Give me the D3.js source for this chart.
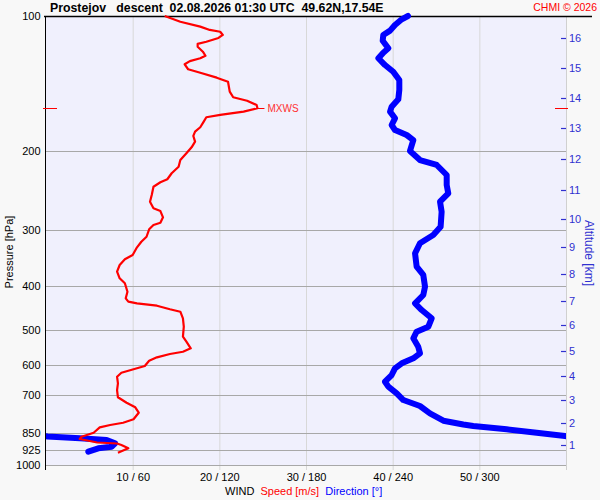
<!DOCTYPE html>
<html><head><meta charset="utf-8">
<script src="https://cdn.jsdelivr.net/npm/d3@7"></script>
<style>
html,body{margin:0;padding:0;background:#f8f8f8;}
svg{display:block;font-family:"Liberation Sans",Arial,sans-serif;}
</style></head><body>
<svg id="c" width="600" height="500"></svg>
<script>
// ---- data ----
const pressureTicks = [100,200,300,400,500,600,700,850,925,1000];
const speedTicks = [10,20,30,40,50];
const dirTicks = [60,120,180,240,300];
const altKm = [1,2,3,4,5,6,7,8,9,10,11,12,13,14,15,16];
const altPressure = [902.7,807.5,716.6,633.7,556.6,487.8,430.6,376.1,326.5,283.7,244.1,208.5,177.9,152.5,130.3,112.1];
const maxWind = {p:160.5, s:24.4};

// wind speed [m/s] profile: pressure [hPa]
const speedP = [100,103.0,105.6,107.4,108.4,110.2,111.9,114.1,115.4,117.1,120.1,122.6,124.2,126.0,128.1,131.4,133.8,137.2,140.1,147.4,151.7,154.4,157.8,160.5,163.3,166.1,168.1,171.9,176.9,181.0,185.0,190.5,196.1,202.2,209.3,216.6,224.0,231.0,234.6,240.0,250.4,259.2,268.1,271.9,280.8,288.7,292.1,298.6,310.2,318.2,327.5,340.6,348.2,358.6,371.1,383.9,393.8,411.2,425.4,432.8,436.4,441.8,450.0,455.6,471.3,492.0,517.9,531.4,549.7,559.4,566.0,575.7,585.8,601.9,612.2,623.0,635.9,657.8,680.8,706.7,726.6,743.9,764.8,791.1,805.1,814.6,824.3,847.4,865.0,875.3,891.1,895.7,902.6,918.0,938.9];
const speedV = [13.7,15.5,17.8,18.9,20.1,20.4,19.9,18.5,17.5,17.5,18.1,18.4,17.8,16.6,16.0,16.4,17.8,19.7,21.0,21.2,21.6,23.2,24.3,24.4,22.8,20.1,18.5,18.2,17.8,17.2,17.0,17.2,16.8,16.2,15.5,15.3,14.5,14.0,13.2,12.4,12.2,12.0,12.4,13.2,13.5,13.2,12.4,11.9,11.6,11.0,10.5,10.0,9.1,8.5,8.2,8.5,9.1,9.4,9.2,9.5,10.5,12.8,14.3,15.5,15.8,15.9,15.8,16.2,16.7,15.8,14.3,12.8,11.9,11.4,10.1,8.7,8.2,8.3,8.2,8.3,9.3,10.3,10.7,10.1,8.9,7.4,6.2,5.5,4.1,3.9,5.9,8.2,8.7,9.5,8.3];

// wind direction [deg] profile: pressure [hPa]
const dirP = [100,101.7,104.7,107.8,110.2,113.5,118.0,120.7,124.2,128.6,133.1,138.8,146.1,153.3,159.2,163.3,169.0,174.9,179.4,184.1,188.9,199.8,209.3,214.7,226.0,237.9,248.3,259.2,272.8,294.7,307.5,320.8,337.7,361.7,377.4,400.8,418.2,436.4,451.7,471.3,492.0,504.8,522.2,545.2,564.0,578.6,593.7,609.1,630.4,652.4,669.3,692.3,716.6,739.0,767.2,796.9,812.5,818.8,832.8,847.4,861.9,864.0,872.1,879.8,894.8,910.5,918.0,934.1];
const dirV = [250.6,246.3,241.6,238.2,233.5,233.1,237.0,233.5,230.1,234.7,240.4,244.6,244.6,243.9,239.3,238.2,241.6,239.3,241.6,249.7,254.3,252.0,258.9,270.5,277.4,277.4,278.5,272.8,273.9,273.2,268.1,258.9,255.5,256.6,261.2,262.4,261.2,255.5,260.1,267.0,264.7,256.6,254.3,257.7,258.9,254.3,246.3,241.6,239.3,234.7,237.0,242.8,247.4,258.9,265.8,275.1,288.9,295.8,318.9,339.7,359.3,1.0,23.5,42.0,47.8,45.5,36.2,29.3];

// ---- chart ----
const svg = d3.select("#c");
const L = 46, R = 566, T = 16, B = 465;
const y = d3.scaleLog().domain([100,1000]).range([T,B]);
const xs = d3.scaleLinear().domain([0,60]).range([L,R]);
const xd = d3.scaleLinear().domain([0,360]).range([L,R]);

svg.append("rect").attr("x",L).attr("y",T).attr("width",R-L).attr("height",B-T).attr("fill","#f0f0fd");

// vertical grid
svg.append("g").selectAll("line").data(speedTicks).join("line")
  .attr("x1",d=>xs(d)+0.5).attr("x2",d=>xs(d)+0.5).attr("y1",T).attr("y2",B+5)
  .attr("stroke","#d8d8d8").attr("stroke-width",1);
svg.append("line").attr("x1",R+0.5).attr("x2",R+0.5).attr("y1",T).attr("y2",B+5).attr("stroke","#d0d0d0");

// horizontal grid
svg.append("g").selectAll("line").data(pressureTicks.slice(1)).join("line")
  .attr("x1",L).attr("x2",R).attr("y1",d=>Math.round(y(d))+0.5).attr("y2",d=>Math.round(y(d))+0.5)
  .attr("stroke","#a8a8a8").attr("stroke-width",1);

// left axis
const ax = svg.append("g").attr("transform",`translate(${L-0.5},0)`)
  .call(d3.axisLeft(y).tickValues(pressureTicks).tickFormat(d3.format("d")).tickSize(0).tickPadding(5));
ax.select(".domain").remove();
ax.selectAll("text").attr("font-size",11).attr("fill","#000").attr("font-family","Liberation Sans, Arial, sans-serif");
svg.append("line").attr("x1",L-0.5).attr("x2",L-0.5).attr("y1",T).attr("y2",B+5).attr("stroke","#000");
svg.append("line").attr("x1",L-2).attr("x2",592).attr("y1",T+0.5).attr("y2",T+0.5).attr("stroke","#000").attr("stroke-width",1.5);

// bottom axis labels
const bx = svg.append("g").attr("transform",`translate(0,${B})`)
  .call(d3.axisBottom(xs).tickValues(speedTicks).tickSize(0).tickPadding(8)
    .tickFormat((d,i)=>`${d} / ${dirTicks[i]}`));
bx.select(".domain").remove();
bx.selectAll("text").attr("font-size",11).attr("fill","#000").attr("font-family","Liberation Sans, Arial, sans-serif");

// right altitude axis
const ra = svg.append("g").attr("transform",`translate(${R},0)`)
  .call(d3.axisRight(y).tickValues(altPressure).tickSize(0).tickPadding(3)
    .tickFormat((d,i)=>altKm[i]));
ra.select(".domain").remove();
ra.selectAll("text").attr("font-size",11).attr("fill","#3030d0").attr("font-family","Liberation Sans, Arial, sans-serif");
svg.append("g").selectAll("line").data(altPressure).join("line")
  .attr("x1",R-5).attr("x2",R).attr("y1",d=>Math.round(y(d))+0.5).attr("y2",d=>Math.round(y(d))+0.5)
  .attr("stroke","#3030d0").attr("stroke-width",1.2);

// clip
svg.append("clipPath").attr("id","pc").append("rect").attr("x",L).attr("y",0).attr("width",R-L).attr("height",B);

// direction line (unwrapped across 360)
let off = 0;
const dirU = dirV.map((v,i)=>{ if(i>0 && v - dirV[i-1] < -180) off += 360; return v+off; });
const dline = d3.line().x(d=>d[0]).y(d=>y(d[1]));
const gd = svg.append("g").attr("clip-path","url(#pc)");
[0,360].forEach(sh=>{
  gd.append("path").attr("d", dline(dirU.map((v,i)=>[xd(v-sh), dirP[i]])))
    .attr("fill","none").attr("stroke","#0000ff").attr("stroke-width",6)
    .attr("stroke-linejoin","round").attr("stroke-linecap","round");
});

// speed line
svg.append("path").attr("d", d3.line().x((d,i)=>xs(d)).y((d,i)=>y(speedP[i]))(speedV))
  .attr("fill","none").attr("stroke","#ff0000").attr("stroke-width",2.2).attr("stroke-linejoin","round");

// max wind marker
const my = Math.round(y(maxWind.p))+0.5;
svg.append("line").attr("x1",L-3).attr("x2",L+11).attr("y1",my).attr("y2",my).attr("stroke","#ff0000");
svg.append("line").attr("x1",R-11).attr("x2",R+2).attr("y1",my).attr("y2",my).attr("stroke","#ff0000");
svg.append("line").attr("x1",xs(maxWind.s)).attr("x2",xs(maxWind.s)+7).attr("y1",my).attr("y2",my).attr("stroke","#ff0000");
svg.append("text").attr("x",xs(maxWind.s)+10).attr("y",my+3.5).attr("font-size",10).attr("fill","#ff3030").text("MXWS");

// titles
svg.append("text").attr("x",50).attr("y",12).attr("font-size",12.3).attr("font-weight","bold").attr("fill","#000")
  .attr("xml:space","preserve").style("white-space","pre")
  .text("Prostejov   descent  02.08.2026 01:30 UTC  49.62N,17.54E");
svg.append("text").attr("x",597).attr("y",11).attr("text-anchor","end").attr("font-size",10.5).attr("fill","#ff0000").text("CHMI © 2026");

svg.append("text").attr("transform","translate(13,252) rotate(-90)").attr("text-anchor","middle").attr("font-size",11).attr("fill","#000").text("Pressure [hPa]");
svg.append("text").attr("transform","translate(585,253) rotate(90)").attr("text-anchor","middle").attr("font-size",12).attr("fill","#3030d0").text("Altitude [km]");

const leg = svg.append("text").attr("x",225).attr("y",495).attr("font-size",11).style("white-space","pre");
leg.append("tspan").attr("fill","#000").text("WIND  ");
leg.append("tspan").attr("fill","#ff0000").text("Speed [m/s]");
leg.append("tspan").attr("fill","#0000ff").text("  Direction [°]");
</script>
</body></html>
